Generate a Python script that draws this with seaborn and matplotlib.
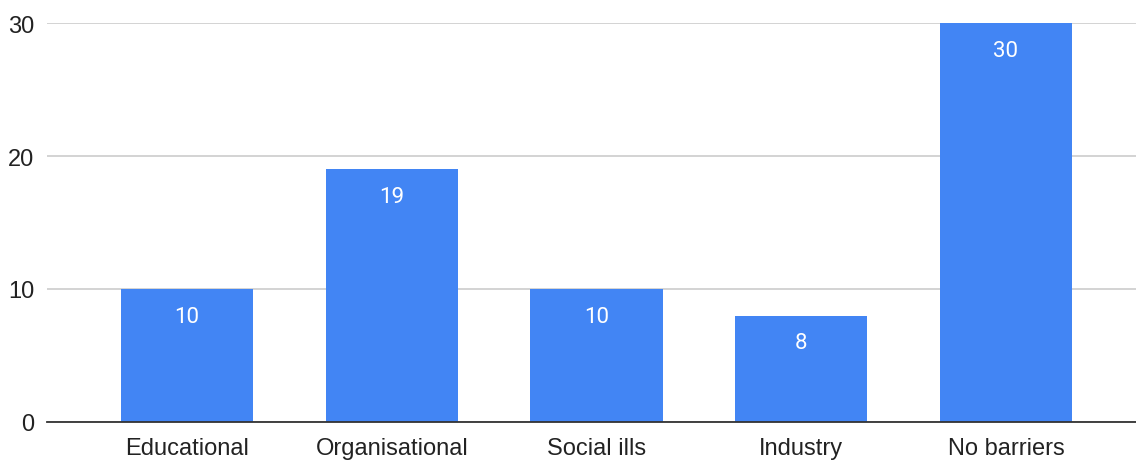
import matplotlib
matplotlib.use("Agg")
import matplotlib.pyplot as plt
import seaborn as sns
import pandas as pd

categories = ["Educational", "Organisational", "Social ills", "Industry", "No barriers"]
counts = [10, 19, 10, 8, 30]
y_ticks = [0, 10, 20, 30]

sns.set_theme(style="white")
plt.rcParams["font.family"] = ["Liberation Sans", "DejaVu Sans"]

df = pd.DataFrame({"category": categories, "count": counts})

fig = plt.figure(figsize=(11.36, 4.64), dpi=100)
ax = fig.add_axes([47 / 1136, 1 - 423 / 464, 1 - 47 / 1136, (423 - 24) / 464])

sns.barplot(data=df, x="category", y="count", color="#4285F4", saturation=1,
            width=0.645, linewidth=0, ax=ax, zorder=3)

ax.set_xlim(-0.684, 4.635)
ax.set_ylim(0, 30)
ax.set_yticks(y_ticks)
ax.yaxis.grid(True, color="#cccccc", linewidth=1.2, zorder=0)
ax.set_axisbelow(True)

for side in ["top", "right", "left"]:
    ax.spines[side].set_visible(False)
ax.spines["bottom"].set_color("#333333")
ax.spines["bottom"].set_linewidth(1.3)
ax.spines["bottom"].set_zorder(5)

ax.tick_params(axis="both", length=0, labelsize=17, colors="#222222")
ax.tick_params(axis="y", pad=9)
ax.tick_params(axis="x", pad=11)
ax.set_xlabel("")
ax.set_ylabel("")

# value labels just inside the top of each bar
for i, v in enumerate(counts):
    ax.annotate(str(v), xy=(i, v), xytext=(0, -19.5), textcoords="offset points",
                ha="center", va="center", color="white", fontsize=16,
                family=["Roboto", "DejaVu Sans"], zorder=6)

fig.savefig("out.png", dpi=100)
